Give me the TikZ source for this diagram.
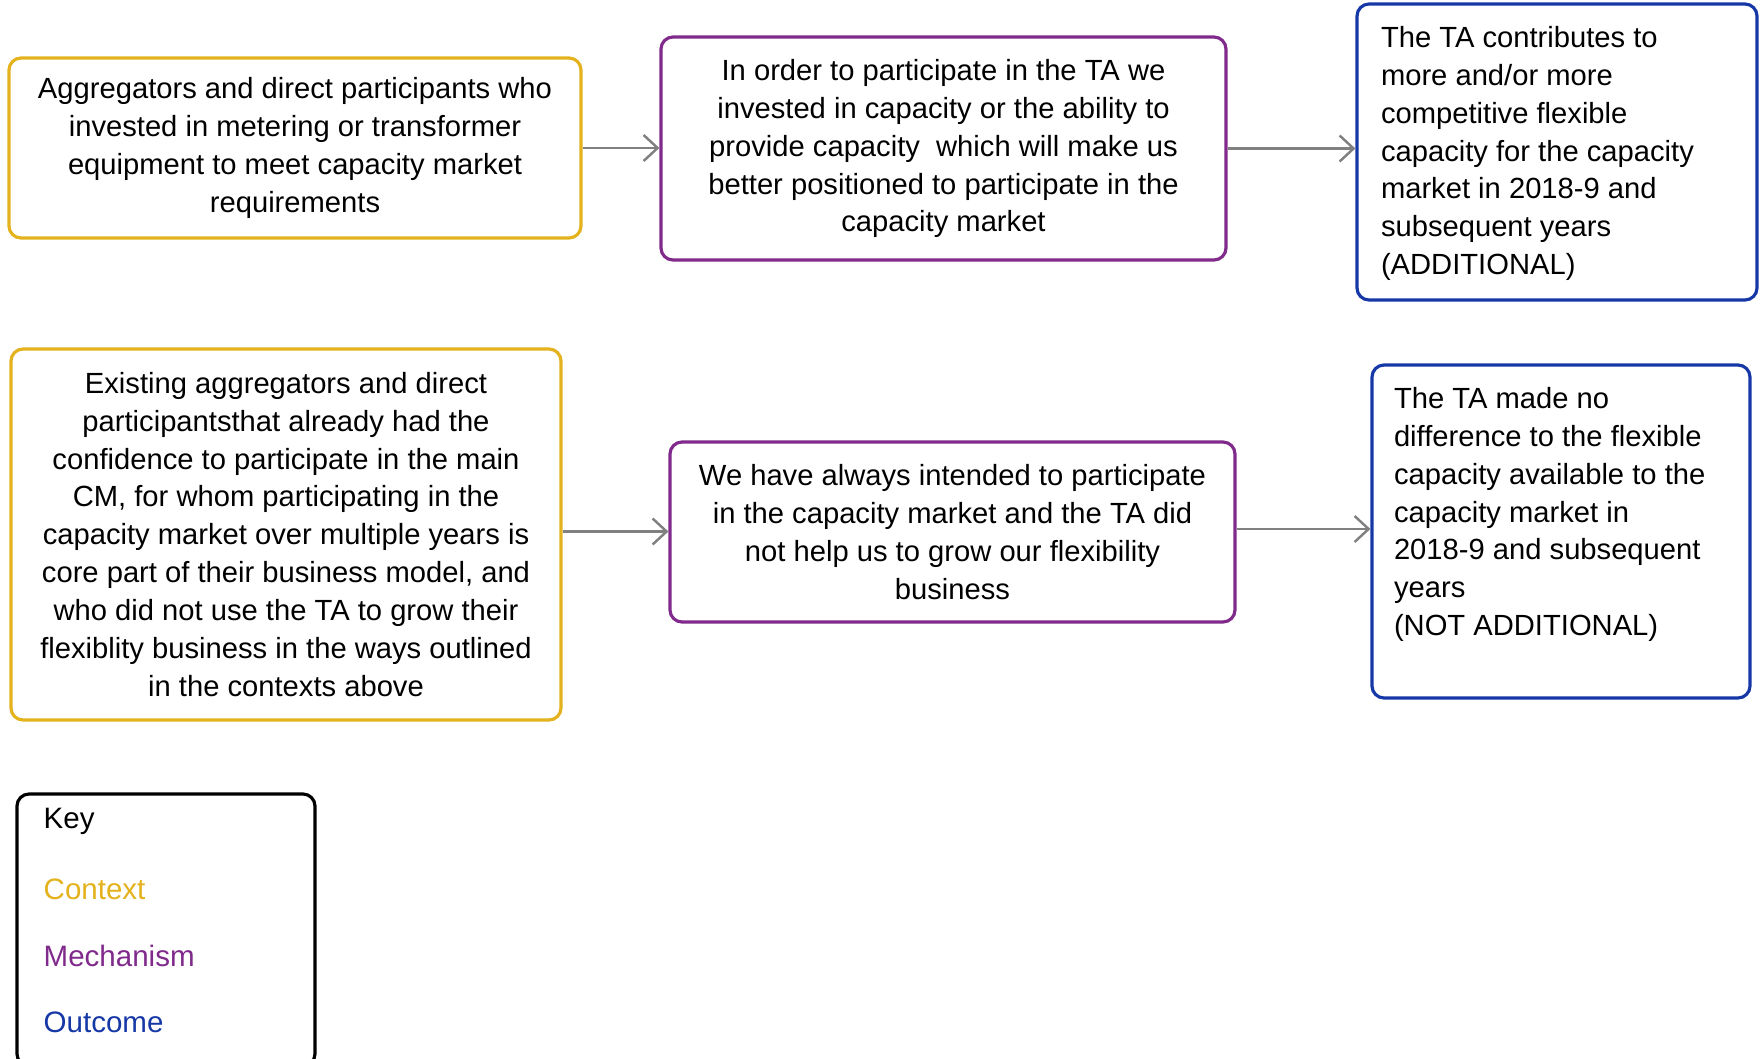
\documentclass[tikz,border=0pt]{standalone}
\usepackage{fontspec}
\setmainfont{Liberation Sans}
\usetikzlibrary{arrows.meta, positioning}

% --- COLORES ---
\definecolor{colorContexto}{RGB}{228, 178, 28}
\definecolor{colorMecanismo}{RGB}{128, 42, 140}
\definecolor{colorResultado}{RGB}{22, 56, 166}
\definecolor{colorFlecha}{RGB}{128, 128, 128}

% texto alineado arriba dentro de una caja de resultado
\newcommand{\textoArriba}[3]{\parbox[c][#1][t]{#2}{\raggedright #3}}

\begin{document}
\begin{tikzpicture}[
    every node/.style={font=\fontsize{8.3}{10.8}\selectfont},
    % Estilo base de las cajas
    caja/.style={
        draw, line width=0.9pt, rounded corners=0.12cm,
        fill=white, inner sep=0pt, align=center
    },
    cajaContexto/.style={caja, draw=colorContexto},
    cajaMecanismo/.style={caja, draw=colorMecanismo},
    cajaResultado/.style={caja, draw=colorResultado},
    cajaClave/.style={caja, draw=black},
    % Flechas grises entre cajas
    flecha/.style={
        line width=0.7pt, colorFlecha,
        -{Straight Barb[length=0.14cm, width=0.26cm]}
    },
    textoClave/.style={anchor=west, inner sep=0pt, font=\fontsize{8.4}{10}\selectfont}
]
    % --- MARCO ---
    \useasboundingbox (0, 0) rectangle (17.63, -10.59);

    % 1. Fila superior
    \node[cajaContexto, minimum width=5.72cm, minimum height=1.80cm] (ctx1) at (2.95, -1.48)
        {Aggregators and direct participants who\\
         invested in metering or transformer\\
         equipment to meet capacity market\\
         requirements};
    \node[cajaMecanismo, minimum width=5.65cm, minimum height=2.23cm] (mec1) at (9.435, -1.485)
        {In order to participate in the TA we\\
         invested in capacity or the ability to\\
         provide capacity\ \ which will make us\\
         better positioned to participate in the\\
         capacity market};
    \node[cajaResultado, minimum width=4.00cm, minimum height=2.96cm] (res1) at (15.57, -1.52)
        {\textoArriba{2.52cm}{3.52cm}{The TA contributes to\\
         more and/or more\\
         competitive flexible\\
         capacity for the capacity\\
         market in 2018-9 and\\
         subsequent years\\
         (ADDITIONAL)}};

    % 2. Fila inferior
    \node[cajaContexto, minimum width=5.50cm, minimum height=3.71cm] (ctx2) at (2.86, -5.345)
        {Existing aggregators and direct\\
         participantsthat already had the\\
         confidence to participate in the main\\
         CM, for whom participating in the\\
         capacity market over multiple years is\\
         core part of their business model, and\\
         who did not use the TA to grow their\\
         flexiblity business in the ways outlined\\
         in the contexts above};
    \node[cajaMecanismo, minimum width=5.65cm, minimum height=1.80cm] (mec2) at (9.525, -5.32)
        {We have always intended to participate\\
         in the capacity market and the TA did\\
         not help us to grow our flexibility\\
         business};
    \node[cajaResultado, minimum width=3.78cm, minimum height=3.33cm] (res2) at (15.61, -5.315)
        {\textoArriba{2.89cm}{3.34cm}{The TA made no\\
         difference to the flexible\\
         capacity available to the\\
         capacity market in\\
         2018-9 and subsequent\\
         years\\
         (NOT ADDITIONAL)}};

    % 3. Flechas
    \draw[flecha] (ctx1.east) -- (ctx1.east -| mec1.west);
    \draw[flecha] (mec1.east) -- (mec1.east -| res1.west);
    \draw[flecha] ([yshift=0.03cm]ctx2.east) -- ([yshift=0.03cm]ctx2.east -| mec2.west);
    \draw[flecha] ([yshift=0.03cm]mec2.east) -- ([yshift=0.03cm]mec2.east -| res2.west);

    % 4. Clave
    \node[cajaClave, minimum width=2.98cm, minimum height=2.72cm] (clave) at (1.66, -9.30) {};
    \node[textoClave] (claveTit) at (0.43, -8.21) {Key};
    \node[textoClave, colorContexto] (claveCtx) at (0.43, -8.89) {Context};
    \node[textoClave, colorMecanismo] (claveMec) at (0.43, -9.56) {Mechanism};
    \node[textoClave, colorResultado] (claveRes) at (0.43, -10.22) {Outcome};

\end{tikzpicture}
\end{document}
